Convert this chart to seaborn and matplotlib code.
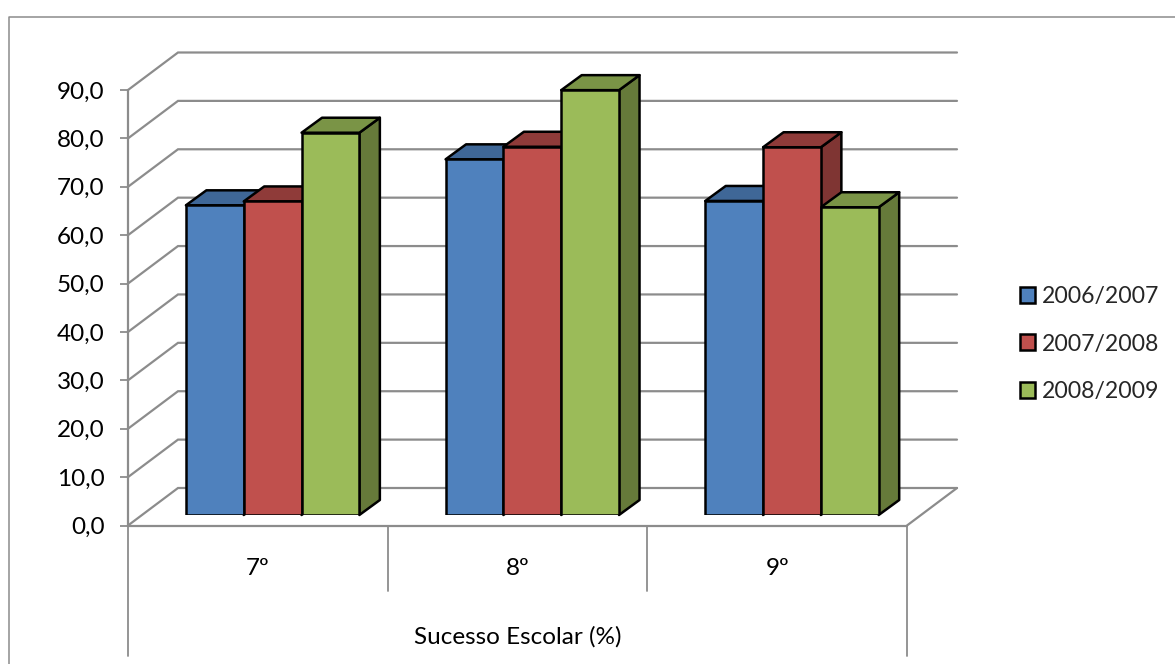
import pandas as pd
import seaborn as sns
import matplotlib.pyplot as plt
from matplotlib.lines import Line2D
from matplotlib.patches import Polygon

# Values
anos = ['7º', '8º', '9º']
anos_letivos = ['2006/2007', '2007/2008', '2008/2009']
sucesso_2006 = [64.0, 73.5, 64.9]
sucesso_2007 = [64.8, 76.1, 76.0]
sucesso_2008 = [79.0, 87.8, 63.6]
eixo_y = [0, 10, 20, 30, 40, 50, 60, 70, 80, 90]
eixo_y_labels = ['0,0', '10,0', '20,0', '30,0', '40,0', '50,0', '60,0', '70,0', '80,0', '90,0']

cores = ['#4F81BD', '#C0504D', '#9BBB59']
cores_topo = ['#3F6797', '#8F3B39', '#7A9446']
cores_lado = ['#34557E', '#7F3533', '#667A3A']
cinza = '#8C8C8C'

df = pd.DataFrame({
    'ano': anos * 3,
    'sucesso': sucesso_2006 + sucesso_2007 + sucesso_2008,
    'letivo': [a for a in anos_letivos for _ in anos],
})

W, H = 1175, 664
sns.set_theme(style='white')
plt.rcParams['font.family'] = ['Lato', 'DejaVu Sans']
fig = plt.figure(figsize=(W / 100, H / 100), dpi=100)


def caixa(x0, x1, y_base, y_topo):
    # pixel box of the image -> figure fractions
    return [x0 / W, 1 - y_base / H, (x1 - x0) / W, (y_base - y_topo) / H]


# Frame of the chart area
fig.add_artist(Line2D([8.5 / W, 8.5 / W, 1], [0, 1 - 16.5 / H, 1 - 16.5 / H], color=cinza, lw=1.1))

# Walls and floor
ax = fig.add_axes(caixa(128, 907, 525.5, 90))
ax.set_xlim(-0.5, 2.5)
ax.set_ylim(0, 90)
ax.patch.set_alpha(0)
sns.despine(ax=ax, left=True, bottom=True, top=True, right=True)

px_x = 3 / 779
px_y = 90 / 435.5
fundo_x = 50 * px_x
fundo_y = 37.5 * px_y
for v in eixo_y:
    ax.plot([-0.5, -0.5 + fundo_x, 2.5 + fundo_x], [v, v + fundo_y, v + fundo_y],
            color=cinza, lw=1.6, clip_on=False, zorder=1, solid_joinstyle='miter')
ax.plot([2.5, 2.5 + fundo_x], [0, fundo_y], color=cinza, lw=1.6, clip_on=False, zorder=1)
ax.plot([-0.5, 2.5], [0, 0], color=cinza, lw=1.6, clip_on=False, zorder=1)
ax.plot([-0.5, -0.5], [0, 90], color=cinza, lw=1.6, clip_on=False, zorder=1)
for x in [0.5, 1.5]:
    ax.plot([x, x], [0, -65 * px_y], color=cinza, lw=1.3, clip_on=False)
for x in [-0.5, 2.5]:
    ax.plot([x, x], [0, -130 * px_y], color=cinza, lw=1.3, clip_on=False)

ax.set_yticks(eixo_y, eixo_y_labels, fontsize=17.5, color='black')
ax.tick_params(axis='y', length=6, width=1.3, color=cinza, pad=11, left=True)
ax.set_xticks([0, 1, 2], anos, fontsize=17.5, color='black')
ax.tick_params(axis='x', length=0, pad=23.5)
ax.set_xlabel('Sucesso Escolar (%)', fontsize=17.5, color='black', labelpad=34)
ax.set_ylabel('')

# Bars sit forward on the floor, so they get their own axes shifted from the walls
ax2 = fig.add_axes(caixa(128 + 14.8, 907 + 14.8, 515, 90 - 10.5))
sns.barplot(data=df, x='ano', y='sucesso', hue='letivo', order=anos, hue_order=anos_letivos,
            palette=cores, width=0.668, gap=0, saturation=1, edgecolor='black', linewidth=1.8,
            ax=ax2, zorder=3)
ax2.set_xlim(-0.5, 2.5)
ax2.set_ylim(0, 90)
ax2.patch.set_alpha(0)
ax2.axis('off')

# Top and side faces worked out from the bars seaborn drew
prof_x = 20.5 * px_x
prof_y = 15 * px_y
for i, bars in enumerate(ax2.containers):
    for b in bars:
        x0, x1, h = b.get_x(), b.get_x() + b.get_width(), b.get_height()
        topo = [(x0, h), (x0 + prof_x, h + prof_y), (x1 + prof_x, h + prof_y), (x1, h)]
        lado = [(x1, 0), (x1 + prof_x, prof_y), (x1 + prof_x, h + prof_y), (x1, h)]
        ax2.add_patch(Polygon(lado, facecolor=cores_lado[i], edgecolor='black', lw=1.8,
                              zorder=2, clip_on=False, joinstyle='round'))
        ax2.add_patch(Polygon(topo, facecolor=cores_topo[i], edgecolor='black', lw=1.8,
                              zorder=2, clip_on=False, joinstyle='round'))

handles, labels = ax2.get_legend_handles_labels()
ax2.legend(handles, labels, frameon=False, loc='center left', fontsize=16.6,
           bbox_to_anchor=(1010.5 / W, 1 - 344 / H), bbox_transform=fig.transFigure,
           handlelength=0.68, handleheight=0.68, handletextpad=0.3, labelspacing=1.14,
           borderpad=0, borderaxespad=0.4)

plt.savefig('out.png', dpi=100)
